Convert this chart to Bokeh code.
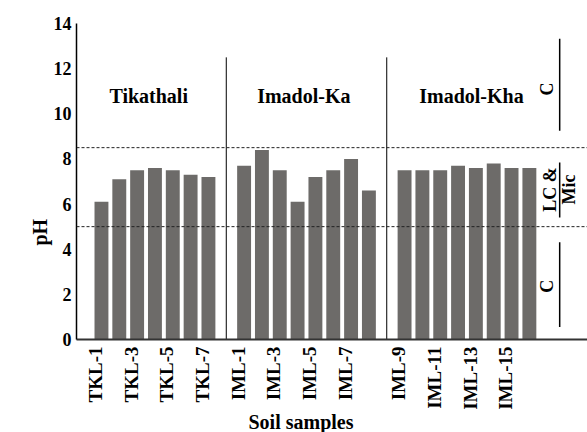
import math
from bokeh.plotting import figure
from bokeh.models import Range1d, FixedTicker, Span, ColumnDataSource, Title
from bokeh.core.properties import value
from bokeh.embed import file_html
from bokeh.resources import INLINE

# ---------------- data ----------------
tkl_samples = ["TKL-1", "TKL-2", "TKL-3", "TKL-4", "TKL-5", "TKL-6", "TKL-7"]
tkl_ph = [6.1, 7.1, 7.5, 7.6, 7.5, 7.3, 7.2]

ka_samples = ["IML-1", "IML-2", "IML-3", "IML-4", "IML-5", "IML-6", "IML-7", "IML-8"]
ka_ph = [7.7, 8.4, 7.5, 6.1, 7.2, 7.5, 8.0, 6.6]

kha_samples = ["IML-9", "IML-10", "IML-11", "IML-12", "IML-13", "IML-14", "IML-15", "IML-16"]
kha_ph = [7.5, 7.5, 7.5, 7.7, 7.6, 7.8, 7.6, 7.6]

group_names = ["Tikathali", "Imadol-Ka", "Imadol-Kha"]
shown_ticks = ["TKL-1", "TKL-3", "TKL-5", "TKL-7", "IML-1", "IML-3", "IML-5", "IML-7",
               "IML-9", "IML-11", "IML-13", "IML-15"]
y_ticks = [0, 2, 4, 6, 8, 10, 12, 14]
ph_limits = [5.0, 8.5]          # lower / upper limit lines
zone_text = ["C", "LC &", "Mic", "C"]

FONT = "'Liberation Serif'"
BAR_COLOR = "#6d6b69"

# ---------------- positions (slots) ----------------
groups = [(tkl_samples, tkl_ph), (ka_samples, ka_ph), (kha_samples, kha_ph)]
xs, ys, names, group_centers, dividers = [], [], [], [], []
slot = 1
for gi, (s, v) in enumerate(groups):
    start = slot
    for name, val in zip(s, v):
        xs.append(slot); ys.append(val); names.append(name)
        slot += 1
    group_centers.append((start + slot - 1) / 2)
    if gi < len(groups) - 1:
        dividers.append(slot)
        slot += 1
last_slot = slot - 1
pos = dict(zip(names, xs))

src = ColumnDataSource(dict(x=xs, ph=ys, name=names))

p = figure(width=587, height=432,
           x_range=Range1d(-0.40, 28.26), y_range=Range1d(0, 14),
           output_backend="svg", toolbar_location=None,
           min_border_left=76, min_border_right=0, min_border_top=23, min_border_bottom=93)
p.outline_line_color = None
p.grid.grid_line_color = None
p.background_fill_color = "white"

p.vbar(x="x", top="ph", width=0.78, source=src, fill_color=BAR_COLOR, line_color=None)

# limit lines
for lim in ph_limits:
    p.add_layout(Span(location=lim, dimension="width", line_color="#222222",
                      line_dash="3 2", line_width=1))

# group dividers
p.segment(x0=dividers, y0=[0] * len(dividers), x1=dividers, y1=[12.5] * len(dividers),
          line_color="black", line_width=1)

# group names (small horizontal nudges to match the original placement)
name_nudge = [-0.35, -0.15, 0.25]
p.text(x=[c + d for c, d in zip(group_centers, name_nudge)], y=[10.8] * 3, text=group_names,
       text_font=value(FONT), text_font_style="bold", text_font_size="20px",
       text_align="center", text_baseline="middle", text_color="black")

# zone annotations on the right
lx = last_slot + 1.7
p.segment(x0=[lx, lx, lx], x1=[lx, lx, lx], y0=[9.25, 5.41, 0.55], y1=[13.32, 7.84, 4.31],
          line_color="black", line_width=1.5)
p.text(x=[last_slot + 1.0, last_slot + 1.18, last_slot + 2.22, last_slot + 1.0],
       y=[11.1, 6.65, 6.65, 2.36], text=zone_text,
       angle=math.pi / 2, text_font=value(FONT), text_font_style="bold", text_font_size="18px",
       text_align="center", text_baseline="middle", text_color="black")

# axes
shift = -0.33
p.xaxis.ticker = FixedTicker(ticks=[pos[n] + shift for n in shown_ticks])
p.xaxis.major_label_overrides = {pos[n] + shift: n for n in shown_ticks}
p.xaxis.major_label_orientation = math.pi / 2
p.xaxis.major_tick_line_color = None
p.xaxis.major_tick_out = 0
p.xaxis.major_tick_in = 0
p.xaxis.minor_tick_line_color = None
p.xaxis.minor_tick_out = 0
p.xaxis.axis_line_color = "#333333"
p.xaxis.axis_line_width = 2
p.xaxis.major_label_standoff = 7
p.xaxis.major_label_text_font = FONT
p.xaxis.major_label_text_font_style = "bold"
p.xaxis.major_label_text_font_size = "19px"
p.xaxis.major_label_text_color = "black"

p.yaxis.ticker = FixedTicker(ticks=y_ticks)
p.yaxis.major_tick_line_color = None
p.yaxis.major_tick_out = 0
p.yaxis.major_tick_in = 0
p.yaxis.minor_tick_line_color = None
p.yaxis.minor_tick_out = 0
p.yaxis.axis_line_color = "black"
p.yaxis.axis_line_width = 1.5
p.yaxis.major_label_standoff = 5
p.yaxis.major_label_text_font = FONT
p.yaxis.major_label_text_font_style = "bold"
p.yaxis.major_label_text_font_size = "18px"
p.yaxis.major_label_text_color = "black"

# axis titles
p.add_layout(Title(text="Soil samples", align="left", vertical_align="top", offset=172,
                   standoff=-4, text_font=FONT, text_font_style="bold", text_font_size="20px",
                   text_color="black"), "below")
p.add_layout(Title(text="pH", align="left", offset=94, standoff=0,
                   text_font=FONT, text_font_style="bold", text_font_size="20px",
                   text_color="black"), "left")

open("out.html", "w").write(file_html(p, INLINE))
